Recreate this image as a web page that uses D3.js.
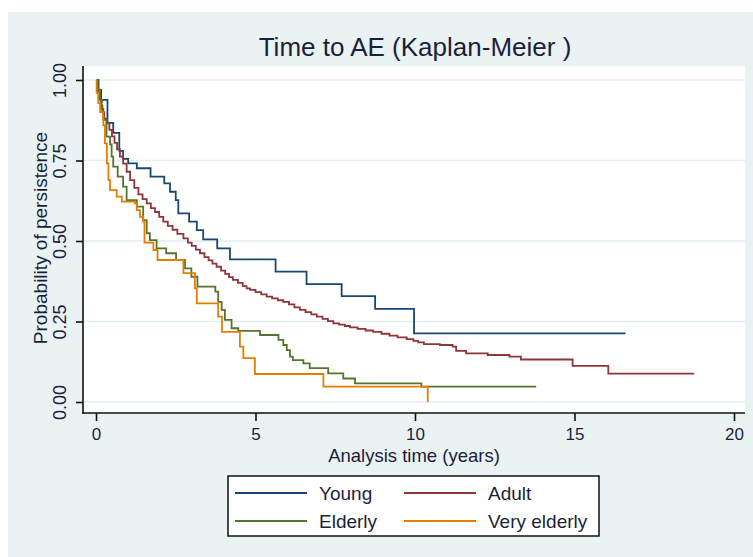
<!DOCTYPE html>
<html>
<head>
<meta charset="utf-8">
<script src="https://cdn.jsdelivr.net/npm/d3@7"></script>
<style>
  body { margin: 0; background: #fff; }
  text { font-family: "Liberation Sans", Arial, sans-serif; fill: #1b1f3a; }
</style>
</head>
<body>
<svg id="chart" width="753" height="557"></svg>
<script>
// Kaplan-Meier step values (time in years, survival)
const youngTime = [0, 0.08, 0.16, 0.36, 0.54, 0.73, 0.85, 1.01, 1.28, 1.71, 2.14, 2.32, 2.5, 2.58, 2.92, 3.16, 3.36, 3.8, 4.2, 5.63, 6.6, 7.7, 8.75, 9.97, 16.6]
const youngSurv = [1, 0.969, 0.938, 0.867, 0.836, 0.78, 0.755, 0.741, 0.726, 0.7, 0.679, 0.653, 0.627, 0.586, 0.56, 0.534, 0.505, 0.477, 0.443, 0.405, 0.366, 0.329, 0.289, 0.213, 0.213]

const adultTime = [0, 0.03, 0.06, 0.1, 0.15, 0.2, 0.26, 0.33, 0.42, 0.5, 0.58, 0.66, 0.75, 0.85, 0.96, 1.07, 1.2, 1.33, 1.46, 1.59, 1.72, 1.85, 1.98, 2.11, 2.25, 2.4, 2.55, 2.74, 2.88, 3.0, 3.13, 3.26, 3.4, 3.53, 3.65, 3.78, 3.92, 4.05, 4.17, 4.29, 4.45, 4.6, 4.72, 4.83, 5.0, 5.18, 5.35, 5.52, 5.7, 5.87, 6.05, 6.22, 6.39, 6.57, 6.75, 6.92, 7.1, 7.27, 7.44, 7.62, 7.8, 7.96, 8.2, 8.45, 8.69, 8.95, 9.2, 9.45, 9.74, 9.95, 10.1, 10.28, 10.78, 11.18, 11.29, 11.6, 12.28, 12.96, 13.32, 14.94, 16.06, 18.75]
const adultSurv = [1, 0.98, 0.96, 0.94, 0.92, 0.9, 0.88, 0.865, 0.845, 0.825, 0.805, 0.785, 0.762, 0.74, 0.715, 0.689, 0.665, 0.645, 0.63, 0.617, 0.602, 0.59, 0.575, 0.56, 0.547, 0.535, 0.522, 0.508, 0.495, 0.485, 0.473, 0.462, 0.45, 0.44, 0.43, 0.42, 0.408, 0.398, 0.388, 0.379, 0.37, 0.36, 0.353, 0.348, 0.341, 0.334, 0.327, 0.322, 0.316, 0.311, 0.303, 0.294, 0.286, 0.279, 0.272, 0.265, 0.258, 0.251, 0.244, 0.24, 0.236, 0.232, 0.227, 0.222, 0.218, 0.212, 0.206, 0.201, 0.195, 0.19, 0.185, 0.18, 0.177, 0.172, 0.159, 0.151, 0.146, 0.141, 0.132, 0.112, 0.088, 0.088]

const elderlyTime = [0, 0.05, 0.13, 0.18, 0.23, 0.33, 0.44, 0.49, 0.54, 0.68, 0.85, 0.96, 1.28, 1.48, 1.59, 1.69, 1.9, 2.2, 2.51, 2.79, 2.99, 3.18, 3.74, 3.83, 3.94, 4.04, 4.25, 4.46, 5.14, 5.72, 5.87, 5.98, 6.08, 6.17, 6.5, 6.7, 7.28, 7.75, 8.12, 10.2, 13.8]
const elderlySurv = [1, 0.97, 0.938, 0.91, 0.876, 0.824, 0.8, 0.762, 0.731, 0.7, 0.669, 0.627, 0.607, 0.565, 0.524, 0.503, 0.477, 0.462, 0.441, 0.415, 0.389, 0.358, 0.343, 0.311, 0.286, 0.255, 0.229, 0.221, 0.208, 0.193, 0.177, 0.161, 0.141, 0.13, 0.12, 0.105, 0.089, 0.073, 0.058, 0.048, 0.048]

const veryTime = [0, 0.02, 0.07, 0.13, 0.23, 0.28, 0.34, 0.39, 0.44, 0.65, 0.81, 1.22, 1.28, 1.38, 1.48, 1.52, 1.8, 1.93, 2.74, 3.1, 3.16, 3.83, 3.95, 4.51, 4.62, 4.98, 7.13, 10.4]
const verySurv = [1, 0.96, 0.928, 0.9, 0.86, 0.803, 0.741, 0.689, 0.658, 0.638, 0.622, 0.617, 0.596, 0.575, 0.56, 0.495, 0.472, 0.441, 0.4, 0.353, 0.306, 0.265, 0.218, 0.172, 0.136, 0.087, 0.048, 0]

const groups = ['Young', 'Adult', 'Elderly', 'Very elderly']
const colors = ['#1a476f', '#90353b', '#55752f', '#e37e00']
const xTicks = [0, 5, 10, 15, 20]
const yTicks = [0, 0.25, 0.5, 0.75, 1]

const series = [
  [youngTime, youngSurv],
  [adultTime, adultSurv],
  [elderlyTime, elderlySurv],
  [veryTime, verySurv]
].map(([t, s]) => t.map((v, i) => [v, s[i]]))

const svg = d3.select('#chart')

// graph region
svg.append('rect').attr('x', 8).attr('y', 12).attr('width', 745).attr('height', 545).attr('fill', '#eaf2f3')

const plot = { left: 83, right: 745, top: 66, bottom: 413 }
svg.append('rect')
  .attr('x', plot.left).attr('y', plot.top)
  .attr('width', plot.right - plot.left).attr('height', plot.bottom - plot.top)
  .attr('fill', '#fff')

const x = d3.scaleLinear().domain([0, 20]).range([96, 734])
const y = d3.scaleLinear().domain([0, 1]).range([402, 80])

// gridlines
svg.append('g').selectAll('line').data(yTicks).join('line')
  .attr('x1', plot.left).attr('x2', plot.right)
  .attr('y1', d => y(d)).attr('y2', d => y(d))
  .attr('stroke', '#e4eef0').attr('stroke-width', 1.5)

// curves
const line = d3.line().x(d => x(d[0])).y(d => y(d[1])).curve(d3.curveStepAfter)
svg.append('g').selectAll('path').data(series).join('path')
  .attr('d', line)
  .attr('fill', 'none')
  .attr('stroke', (d, i) => colors[i])
  .attr('stroke-width', 1.8)

// axes
const yAxis = svg.append('g').attr('transform', `translate(${plot.left},0)`)
  .call(d3.axisLeft(y).tickValues(yTicks).tickFormat(d3.format('.2f')).tickSize(7).tickSizeOuter(0))
const xAxis = svg.append('g').attr('transform', `translate(0,${plot.bottom})`)
  .call(d3.axisBottom(x).tickValues(xTicks).tickSize(8).tickSizeOuter(0))

;[yAxis, xAxis].forEach(g => {
  g.select('.domain').remove()
  g.selectAll('line').attr('stroke', '#111').attr('stroke-width', 1.6)
  g.selectAll('text').attr('font-size', 18).attr('fill', '#1b1f3a')
})
yAxis.selectAll('text')
  .attr('x', null).attr('dy', '0.35em')
  .attr('text-anchor', 'middle')
  .attr('transform', 'translate(-23,0) rotate(-90)')
xAxis.selectAll('text').attr('font-size', 17).attr('y', 27).attr('dy', null)

svg.append('line').attr('x1', plot.left).attr('x2', plot.left).attr('y1', plot.top).attr('y2', plot.bottom + 0.8)
  .attr('stroke', '#111').attr('stroke-width', 1.6)
svg.append('line').attr('x1', plot.left - 0.8).attr('x2', plot.right).attr('y1', plot.bottom).attr('y2', plot.bottom)
  .attr('stroke', '#111').attr('stroke-width', 1.6)

// titles
svg.append('text').attr('x', 415).attr('y', 56).attr('text-anchor', 'middle').attr('font-size', 26)
  .text('Time to AE (Kaplan-Meier )')
svg.append('text').attr('x', 414).attr('y', 462).attr('text-anchor', 'middle').attr('font-size', 18.5)
  .text('Analysis time (years)')
svg.append('text').attr('transform', 'translate(47,238) rotate(-90)').attr('text-anchor', 'middle').attr('font-size', 19)
  .text('Probability of persistence')

// legend
const legend = svg.append('g')
legend.append('rect').attr('x', 228).attr('y', 476).attr('width', 371).attr('height', 60)
  .attr('fill', '#fff').attr('stroke', '#111').attr('stroke-width', 1.5)
const item = legend.selectAll('g.item').data(groups).join('g')
  .attr('transform', (d, i) => `translate(${i % 2 ? 404 : 235},${i < 2 ? 493 : 521})`)
item.append('line').attr('x1', 0).attr('x2', 72)
  .attr('stroke', (d, i) => colors[i]).attr('stroke-width', 1.8)
item.append('text').attr('x', 84).attr('y', 7).attr('font-size', 19).text(d => d)
</script>
</body>
</html>
